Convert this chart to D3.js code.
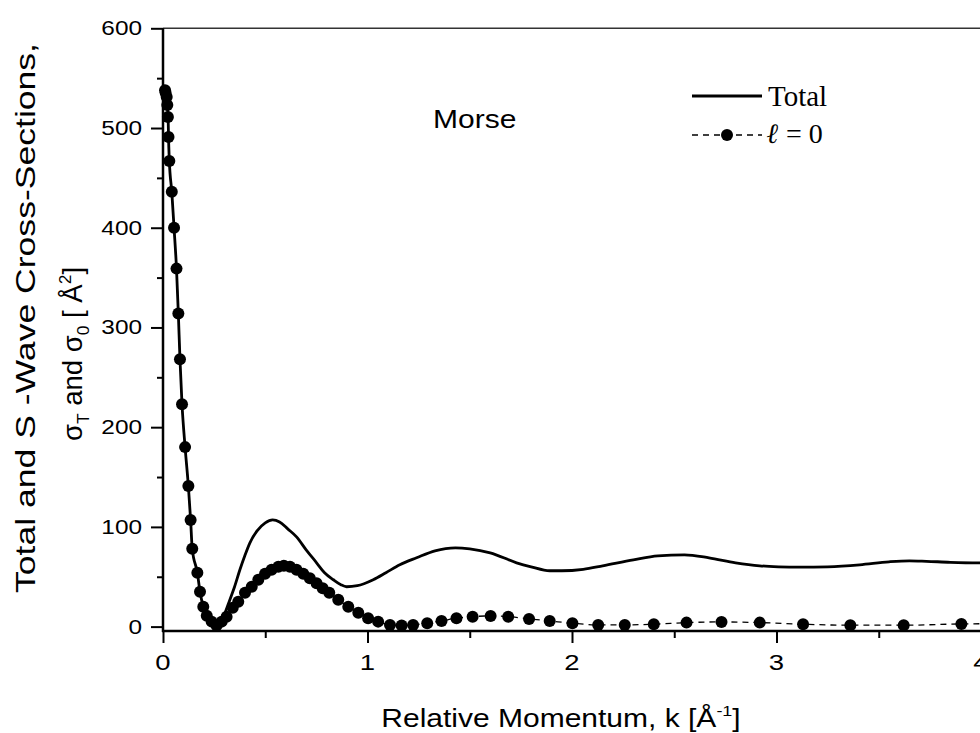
<!DOCTYPE html>
<html>
<head>
<meta charset="utf-8">
<script src="https://cdn.jsdelivr.net/npm/d3@7"></script>
<style>
  html, body { margin: 0; padding: 0; background: #fff; }
  svg { display: block; }
</style>
</head>
<body>
<div id="chart"></div>
<script>
// ---- Data ----
const totalK = [0.000, 0.010, 0.018, 0.021, 0.025, 0.027, 0.031, 0.043, 0.054, 0.066, 0.075, 0.083, 0.093, 0.108, 0.124, 0.135, 0.143, 0.168, 0.181, 0.197, 0.214, 0.238, 0.260, 0.280, 0.300, 0.327, 0.350, 0.376, 0.400, 0.425, 0.460, 0.500, 0.536, 0.570, 0.610, 0.653, 0.700, 0.751, 0.790, 0.833, 0.870, 0.898, 0.950, 1.028, 1.090, 1.158, 1.240, 1.330, 1.430, 1.500, 1.600, 1.729, 1.800, 1.891, 1.950, 2.055, 2.150, 2.300, 2.420, 2.550, 2.670, 2.800, 2.918, 3.010, 3.113, 3.250, 3.407, 3.550, 3.650, 3.733, 3.850, 3.990, 4.000];
const totalSigma = [543, 538, 531, 523, 511, 491, 467, 436, 400, 359, 314, 268, 223, 180, 141, 107, 78, 54, 35, 20, 11, 4, 1, 3, 12, 27, 40, 57, 71, 84, 96, 104, 107, 105, 98, 90, 77, 64, 54, 47, 42, 40, 41, 47, 54, 62, 69, 76, 79, 78, 74, 64, 60, 56, 56, 57.5, 61, 67, 71, 72, 69, 64, 61, 60, 59.6, 60, 62, 65, 66, 65.5, 64.5, 64, 64];

const sWaveK = [0.010, 0.013, 0.018, 0.021, 0.024, 0.027, 0.031, 0.043, 0.054, 0.066, 0.075, 0.083, 0.093, 0.108, 0.124, 0.135, 0.143, 0.168, 0.181, 0.197, 0.214, 0.238, 0.262, 0.287, 0.311, 0.341, 0.368, 0.401, 0.434, 0.466, 0.499, 0.531, 0.564, 0.591, 0.621, 0.653, 0.686, 0.718, 0.751, 0.781, 0.813, 0.857, 0.906, 0.955, 1.003, 1.052, 1.110, 1.167, 1.223, 1.292, 1.362, 1.435, 1.514, 1.602, 1.688, 1.790, 1.891, 2.002, 2.128, 2.258, 2.400, 2.560, 2.731, 2.918, 3.130, 3.361, 3.622, 3.904, 4.100];
const sWaveSigma = [538, 535, 531, 523, 511, 491, 467, 436, 400, 359, 314, 268, 223, 180, 141, 107, 78, 54, 35, 20, 11, 5, 1, 5, 10, 19, 25, 34, 40, 47, 53, 57, 60, 61, 60, 57, 53, 48.5, 43.5, 38.5, 34, 27, 20, 14, 8.4, 5, 1.7, 1, 1.7, 3.4, 5.7, 8.4, 10, 10.7, 10, 7.7, 5.7, 3.4, 1.7, 1.7, 2.4, 4, 4.7, 4, 2.4, 1.4, 1.4, 2.7, 3];

const xTicksMajor = [0, 1, 2, 3, 4];
const xTicksMinor = [0.5, 1.5, 2.5, 3.5];
const yTicksMajor = [0, 100, 200, 300, 400, 500, 600];
const yTicksMinor = [50, 150, 250, 350, 450, 550];

const xDomain = [0, 4];
const yDomain = [-4.4, 600];

// ---- Layout ----
const W = 980, H = 733;
const mLeft = 163, mRight = 981, mTop = 28.3, mBottom = 631;

const svg = d3.select("#chart").append("svg")
  .attr("width", W).attr("height", H)
  .style("background", "#fff");

const x = d3.scaleLinear().domain(xDomain).range([mLeft, mRight]);
const y = d3.scaleLinear().domain(yDomain).range([mBottom, mTop]);

const SANS = "'Liberation Sans', Arial, sans-serif";
const SERIF = "'Liberation Serif', 'Times New Roman', serif";

function stext(g, tx, ty, sx, rot) {
  const grp = g.append("g").attr("transform", `translate(${tx},${ty})` + (rot ? ` rotate(${rot})` : "") + ` scale(${sx},1)`);
  return grp.append("text");
}

// frame top line
svg.append("line")
  .attr("x1", mLeft).attr("x2", W).attr("y1", mTop).attr("y2", mTop)
  .attr("stroke", "#333").attr("stroke-width", 1.5);

// Y axis
const yAxisMajor = d3.axisLeft(y).tickValues(yTicksMajor).tickSize(12).tickFormat("");
const yAxisMinor = d3.axisLeft(y).tickValues(yTicksMinor).tickSize(6).tickFormat("");
const gyMinor = svg.append("g").attr("transform", `translate(${mLeft},0)`).call(yAxisMinor);
const gyMajor = svg.append("g").attr("transform", `translate(${mLeft},0)`).call(yAxisMajor);
[gyMinor, gyMajor].forEach(g => {
  g.select(".domain").remove();
  g.selectAll(".tick line").attr("stroke", "#000").attr("stroke-width", 2);
});

// X axis
const xAxisMajor = d3.axisBottom(x).tickValues(xTicksMajor).tickSize(12).tickFormat("");
const xAxisMinor = d3.axisBottom(x).tickValues(xTicksMinor).tickSize(7).tickFormat("");
const gxMinor = svg.append("g").attr("transform", `translate(0,${mBottom})`).call(xAxisMinor);
const gxMajor = svg.append("g").attr("transform", `translate(0,${mBottom})`).call(xAxisMajor);
[gxMinor, gxMajor].forEach(g => {
  g.select(".domain").remove();
  g.selectAll(".tick line").attr("stroke", "#000").attr("stroke-width", 2);
});

// axis lines
svg.append("line").attr("x1", mLeft).attr("x2", mLeft).attr("y1", mTop).attr("y2", mBottom + 1)
  .attr("stroke", "#000").attr("stroke-width", 2.5);
svg.append("line").attr("x1", mLeft - 1).attr("x2", W).attr("y1", mBottom).attr("y2", mBottom)
  .attr("stroke", "#000").attr("stroke-width", 2.5);

// tick labels
yTicksMajor.forEach(v => {
  stext(svg, 142, y(v) + 7, 1.25)
    .attr("text-anchor", "end").attr("font-family", SANS).attr("font-size", 19.5)
    .attr("fill", "#000").text(v);
});
xTicksMajor.forEach(v => {
  stext(svg, x(v), 669.5, 1.25)
    .attr("text-anchor", "middle").attr("font-family", SANS).attr("font-size", 22)
    .attr("fill", "#000").text(v);
});

// axis titles
const xt = stext(svg, 561, 727, 1.2)
  .attr("text-anchor", "middle").attr("font-family", SANS).attr("font-size", 25).attr("fill", "#000");
xt.append("tspan").text("Relative Momentum, k [Å");
xt.append("tspan").attr("dy", -11).attr("font-size", 15).text("-1");
xt.append("tspan").attr("dy", 11).text("]");

stext(svg, 35, 318, 1.27, -90)
  .attr("text-anchor", "middle").attr("font-family", SANS).attr("font-size", 28).attr("fill", "#000")
  .text("Total and S -Wave Cross-Sections,");

const yt2 = stext(svg, 82, 354, 1.02, -90)
  .attr("text-anchor", "middle").attr("font-family", SANS).attr("font-size", 27).attr("fill", "#000");
yt2.append("tspan").text("σ");
yt2.append("tspan").attr("dy", 7).attr("font-size", 17).text("T");
yt2.append("tspan").attr("dy", -7).text(" and σ");
yt2.append("tspan").attr("dy", 7).attr("font-size", 17).text("0");
yt2.append("tspan").attr("dy", -7).text("  [ Å");
yt2.append("tspan").attr("dy", -11).attr("font-size", 17).text("2");
yt2.append("tspan").attr("dy", 11).text("]");

// "Morse" label
stext(svg, 433, 128, 1.2)
  .attr("font-family", SANS).attr("font-size", 25).attr("fill", "#000").text("Morse");

// ---- Series ----
const totalData = totalK.map((k, i) => ({k, v: totalSigma[i]}));
const sData = sWaveK.map((k, i) => ({k, v: sWaveSigma[i]}));

const line = d3.line().x(d => x(d.k)).y(d => y(d.v)).curve(d3.curveMonotoneX);

svg.append("path").datum(sData)
  .attr("d", line).attr("fill", "none").attr("stroke", "#000")
  .attr("stroke-width", 1.3).attr("stroke-dasharray", "6,5");

svg.append("path").datum(totalData)
  .attr("d", line).attr("fill", "none").attr("stroke", "#000")
  .attr("stroke-width", 2.8).attr("stroke-linejoin", "round");

svg.append("g").selectAll("circle").data(sData).join("circle")
  .attr("cx", d => x(d.k)).attr("cy", d => y(d.v)).attr("r", 6).attr("fill", "#000");

// ---- Legend ----
const lg = svg.append("g");
lg.append("line").attr("x1", 692).attr("x2", 762).attr("y1", 96).attr("y2", 96)
  .attr("stroke", "#000").attr("stroke-width", 2.8);
lg.append("text").attr("x", 768).attr("y", 106).attr("font-family", SERIF).attr("font-size", 29)
  .attr("fill", "#000").text("Total");
lg.append("line").attr("x1", 692).attr("x2", 762).attr("y1", 135).attr("y2", 135)
  .attr("stroke", "#000").attr("stroke-width", 1.3).attr("stroke-dasharray", "6,5");
lg.append("circle").attr("cx", 727).attr("cy", 135).attr("r", 6).attr("fill", "#000");
const l2 = lg.append("text").attr("x", 767).attr("y", 143).attr("font-family", SERIF).attr("font-size", 28).attr("fill", "#000");
l2.append("tspan").attr("font-style", "italic").attr("font-weight", "bold").text("ℓ");
l2.append("tspan").text(" = 0");
</script>
</body>
</html>
